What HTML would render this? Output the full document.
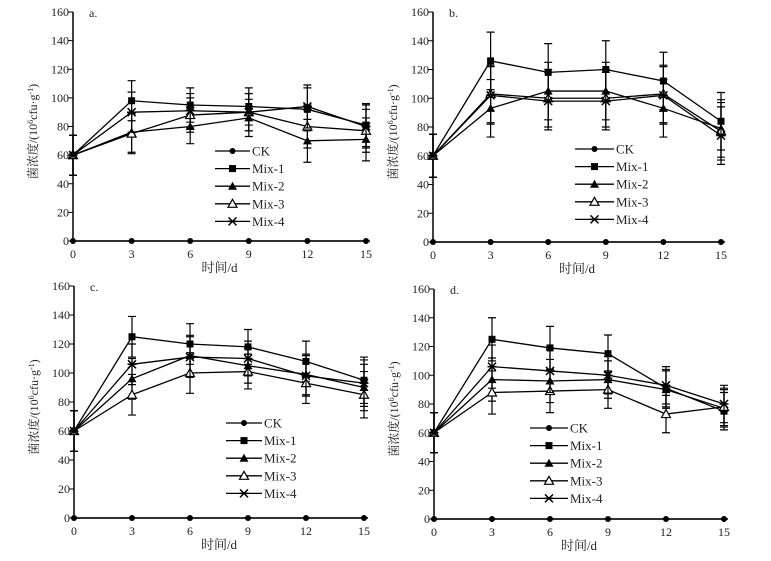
<!DOCTYPE html>
<html><head><meta charset="utf-8">
<style>
html,body{margin:0;padding:0;background:#fff;}
svg{display:block;font-family:"Liberation Serif","Noto Serif CJK SC",serif;}
</style></head>
<body>
<svg id="chart" width="771" height="561" viewBox="0 0 771 561" xmlns="http://www.w3.org/2000/svg"></svg>
<script>
const days = [0, 3, 6, 9, 12, 15];
const yTicks = [0, 20, 40, 60, 80, 100, 120, 140, 160];
const seriesNames = ["CK", "Mix-1", "Mix-2", "Mix-3", "Mix-4"];
const panelLabels = ["a.", "b.", "c.", "d."];
const ckValues = [0, 0, 0, 0, 0, 0];
const aMix1 = [60, 98, 95, 94, 92, 81];
const aMix2 = [60, 76, 80, 86, 70, 71];
const aMix3 = [60, 75, 88, 90, 80, 77];
const aMix4 = [60, 90, 91, 90, 94, 80];
const bMix1 = [60, 126, 118, 120, 112, 84];
const bMix2 = [60, 93, 105, 105, 93, 79];
const bMix3 = [60, 103, 100, 100, 103, 77];
const bMix4 = [60, 102, 98, 98, 102, 74];
const cMix1 = [60, 125, 120, 118, 108, 95];
const cMix2 = [60, 96, 112, 105, 99, 90];
const cMix3 = [60, 85, 100, 101, 93, 85];
const cMix4 = [60, 106, 111, 110, 98, 93];
const dMix1 = [60, 125, 119, 115, 91, 75];
const dMix2 = [60, 97, 96, 97, 90, 77];
const dMix3 = [60, 88, 89, 90, 73, 78];
const dMix4 = [60, 106, 103, 100, 93, 80];
const aErr = [14, 14, 12, 13, 15, 15];
const bErr = [15, 20, 20, 20, 20, 20];
const cErr = [14, 14, 14, 12, 14, 16];
const dErr = [14, 15, 15, 13, 13, 13];

const panels = [
  {x0:73,x1:366,y0:241,y1:12,lx:215,lx2:250,ly:151,series:[ckValues,aMix1,aMix2,aMix3,aMix4],err:aErr},
  {x0:433,x1:721,y0:242,y1:12,lx:575,lx2:614,ly:149,series:[ckValues,bMix1,bMix2,bMix3,bMix4],err:bErr},
  {x0:74,x1:364,y0:518,y1:286,lx:226,lx2:262,ly:423,series:[ckValues,cMix1,cMix2,cMix3,cMix4],err:cErr},
  {x0:434,x1:724,y0:519,y1:289,lx:530,lx2:568,ly:428,series:[ckValues,dMix1,dMix2,dMix3,dMix4],err:dErr}
];
const NS = "http://www.w3.org/2000/svg";
const svg = document.getElementById("chart");
function mk(tag, attrs, parent){const e=document.createElementNS(NS,tag);for(const k in attrs)e.setAttribute(k,attrs[k]);(parent||svg).appendChild(e);return e;}
function marker(g, type, x, y){
  if(type===0){mk("circle",{cx:x,cy:y,r:3,fill:"#000"},g);}
  else if(type===1){mk("rect",{x:x-3.5,y:y-3.5,width:7,height:7,fill:"#000"},g);}
  else if(type===2){mk("polygon",{points:`${x},${y-4.5} ${x-4.5},${y+3.5} ${x+4.5},${y+3.5}`,fill:"#000"},g);}
  else if(type===3){mk("polygon",{points:`${x},${y-4.5} ${x-4.5},${y+3.5} ${x+4.5},${y+3.5}`,fill:"#fff",stroke:"#000","stroke-width":1.2},g);}
  else {mk("path",{d:`M${x-4},${y-4}L${x+4},${y+4}M${x+4},${y-4}L${x-4},${y+4}M${x-4.5},${y}L${x+4.5},${y}`,stroke:"#000","stroke-width":1.5},g);}
}
panels.forEach((p,pi)=>{
  const g = mk("g",{});
  
  
  const sx = d => p.x0 + (d-days[0])/(days[days.length-1]-days[0])*(p.x1-p.x0);
  const sy = v => p.y0 + v/160*(p.y1-p.y0);
  const ax = mk("path",{d:`M${p.x0},${p.y1}V${p.y0}H${p.x1+4}`,stroke:"#000","stroke-width":1.5,fill:"none"},g);
  
  
  yTicks.forEach(t=>{
    mk("line",{x1:p.x0-5,x2:p.x0,y1:sy(t),y2:sy(t),stroke:"#000","stroke-width":1},g);
    const tl = mk("text",{x:p.x0-4,y:sy(t)+4,"text-anchor":"end","font-size":12,fill:"#222"},g);
    tl.textContent = t;
    
    
  });
  days.forEach(d=>{
    const tl = mk("text",{x:sx(d),y:p.y0+17,"text-anchor":"middle","font-size":12,fill:"#222"},g);
    tl.textContent = d;
    
    
  });
  const pl = mk("text",{x:p.x0+16,y:p.y1+5,"font-size":12,fill:"#222"},g);
  pl.textContent = panelLabels[pi];
  
  
  const xt = mk("text",{x:(p.x0+p.x1)/2,y:p.y0+31,"text-anchor":"middle","font-size":13,fill:"#222"},g);
  xt.textContent = "时间/d";
  
  
  const ytx = p.x0-36, yty = (p.y0+p.y1)/2 + 5;
  const yt = mk("text",{x:ytx,y:yty,"text-anchor":"middle","font-size":12,fill:"#222",transform:`rotate(-90 ${ytx} ${yty})`},g);
  yt.innerHTML = '菌浓度/(10<tspan font-size="8" dy="-4">6</tspan><tspan dy="4">cfu·g</tspan><tspan font-size="8" dy="-4">-1</tspan><tspan dy="4">)</tspan>';
  
  
  p.series.forEach((vals,si)=>{
    const sg = mk("g",{},g);
    
    
    if(si>0){
      vals.forEach((v,i)=>{
        const x=sx(days[i]), e=p.err[i];
        mk("path",{d:`M${x},${sy(v-e)}V${sy(v+e)}M${x-4},${sy(v-e)}H${x+4}M${x-4},${sy(v+e)}H${x+4}`,stroke:"#000","stroke-width":1.2,fill:"none"},sg);
      });
    }
    mk("polyline",{points:vals.map((v,i)=>`${sx(days[i])},${sy(v)}`).join(" "),fill:"none",stroke:"#000","stroke-width":1.3},sg);
    vals.forEach((v,i)=>marker(sg,si,sx(days[i]),sy(v)));
    const ly = p.ly + si*17.6;
    const lg = mk("g",{},g);
    
    
    mk("line",{x1:p.lx,x2:p.lx2,y1:ly,y2:ly,stroke:"#000","stroke-width":1.3},lg);
    marker(lg,si,(p.lx+p.lx2)/2,ly);
    const lt = mk("text",{x:p.lx2+2,y:ly+4.5,"font-size":13,fill:"#222"},lg);
    lt.textContent = seriesNames[si];
  });
});
</script>
</body></html>
